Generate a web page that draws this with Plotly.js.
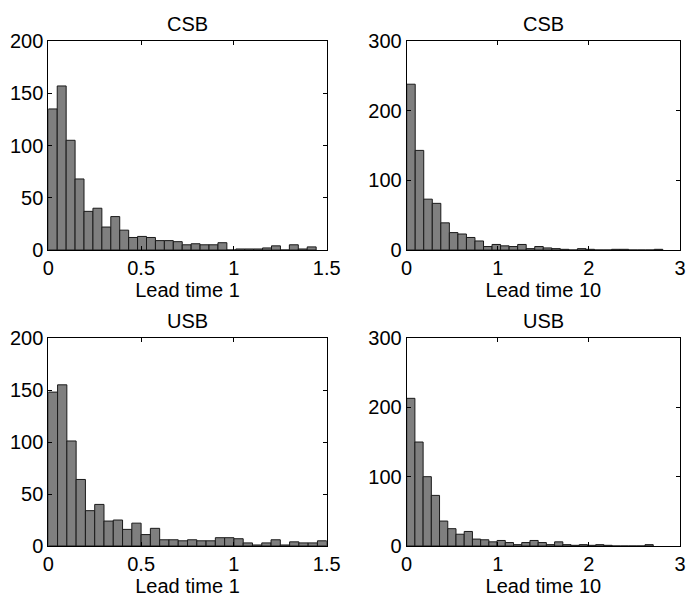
<!DOCTYPE html>
<html>
<head>
<meta charset="utf-8">
<script src="https://cdn.plot.ly/plotly-3.0.1.min.js"></script>
<style>html,body{margin:0;padding:0;background:#fff;}#chart{width:688px;height:597px;}</style>
</head>
<body>
<div id="chart"></div>
<script>
// Histogram counts (30 bins each, starting at 0)
const csbLead1 = [135,157,105,68,37,40,22,32,19,12,13,12,9,9,8,5,6,5,5,7,0,1,1,1,2,4,0,5,1,3];
const csbLead10 = [238,143,73,67,39,25,23,18,13,5,8,6,5,8,2,5,3,2,1,0,2,1,0,0,1,1,0,0,0,1];
const usbLead1 = [148,155,101,64,34,40,24,25,16,22,11,17,6,6,5,6,5,5,8,8,7,3,1,3,6,1,4,3,3,5];
const usbLead10 = [213,150,100,73,36,25,17,21,10,9,6,8,5,2,5,8,5,2,6,2,1,2,1,2,1,0,0,0,0,2];

// Bin widths (data units)
const binCsb1 = 0.0481, binCsb10 = 0.0937, binUsb1 = 0.05, binUsb10 = 0.0902;

const panelTitles = ["CSB", "CSB", "USB", "USB"];
const xLabels = ["Lead time 1", "Lead time 10", "Lead time 1", "Lead time 10"];
const xTicks1 = [0, 0.5, 1, 1.5];
const xTicks10 = [0, 1, 2, 3];
const yTicks200 = [0, 50, 100, 150, 200];
const yTicks300 = [0, 100, 200, 300];

const FONT = {family: '"Liberation Sans", Arial, Helvetica, sans-serif', size: 20, color: '#000'};

function barTrace(counts, w, xa, ya) {
  return {
    type: 'bar', y: counts, x0: w / 2, dx: w, width: w,
    xaxis: xa, yaxis: ya,
    marker: {color: '#7f7f7f', line: {color: '#1a1a1a', width: 1}},
    hoverinfo: 'skip', showlegend: false
  };
}

const data = [
  barTrace(csbLead1, binCsb1, 'x', 'y'),
  barTrace(csbLead10, binCsb10, 'x2', 'y2'),
  barTrace(usbLead1, binUsb1, 'x3', 'y3'),
  barTrace(usbLead10, binUsb10, 'x4', 'y4')
];

function xax(dom, anchor, range, ticks, label) {
  return {
    domain: dom, anchor: anchor, range: range, tickvals: ticks,
    ticks: 'inside', ticklen: 4, tickcolor: '#000', tickwidth: 1,
    showline: true, linecolor: '#000', linewidth: 1, mirror: 'allticks',
    showgrid: false, zeroline: false, tickfont: FONT,
    ticklabeloverflow: 'allow',
    title: {text: label, font: FONT, standoff: 2}, automargin: false
  };
}
function yax(dom, anchor, range, ticks) {
  return {
    domain: dom, anchor: anchor, range: range, tickvals: ticks,
    ticks: 'inside', ticklen: 4, tickcolor: '#000', tickwidth: 1,
    showline: true, linecolor: '#000', linewidth: 1, mirror: 'allticks',
    showgrid: false, zeroline: false, tickfont: FONT, automargin: false
  };
}

const xL = [0.0702, 0.4749], xR = [0.5911, 0.9884];
const yT = [0.5812, 0.9313], yB = [0.0854, 0.4338];

const annotations = [
  ['x domain', 'y domain', 0], ['x2 domain', 'y2 domain', 1],
  ['x3 domain', 'y3 domain', 2], ['x4 domain', 'y4 domain', 3]
].map(([xr, yr, i]) => ({
  xref: xr, yref: yr, x: 0.5, y: 1, xanchor: 'center', yanchor: 'bottom',
  yshift: 4, text: panelTitles[i], showarrow: false, font: FONT
}));

const layout = {
  width: 688, height: 597,
  margin: {l: 0, r: 0, t: 0, b: 0},
  paper_bgcolor: '#fff', plot_bgcolor: '#fff',
  font: FONT, showlegend: false,
  xaxis: xax(xL, 'y', [0, 1.5], xTicks1, xLabels[0]),
  yaxis: yax(yT, 'x', [0, 200], yTicks200),
  xaxis2: xax(xR, 'y2', [0, 3], xTicks10, xLabels[1]),
  yaxis2: yax(yT, 'x2', [0, 300], yTicks300),
  xaxis3: xax(xL, 'y3', [0, 1.5], xTicks1, xLabels[2]),
  yaxis3: yax(yB, 'x3', [0, 200], yTicks200),
  xaxis4: xax(xR, 'y4', [0, 3], xTicks10, xLabels[3]),
  yaxis4: yax(yB, 'x4', [0, 300], yTicks300),
  annotations: annotations
};

Plotly.newPlot('chart', data, layout, {staticPlot: true, displayModeBar: false});
</script>
</body>
</html>
